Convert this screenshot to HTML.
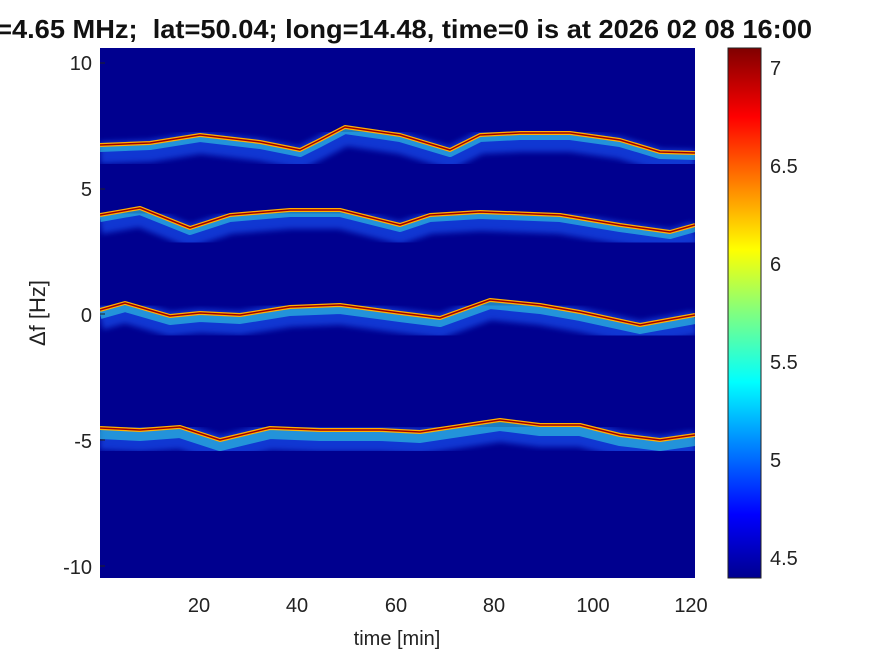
<!DOCTYPE html><html><head><style>body{margin:0;background:#fff;}svg{display:block;font-family:"Liberation Sans",Arial,sans-serif;}</style></head><body>
<svg width="875" height="656" viewBox="0 0 875 656">
<defs>
<linearGradient id="jet" x1="0" y1="1" x2="0" y2="0">
<stop offset="0" stop-color="#00008f"/><stop offset="0.12" stop-color="#0000ff"/><stop offset="0.37" stop-color="#00ffff"/><stop offset="0.5" stop-color="#80ff80"/><stop offset="0.62" stop-color="#ffff00"/><stop offset="0.87" stop-color="#ff0000"/><stop offset="1" stop-color="#800000"/>
</linearGradient>
<filter id="blur"><feGaussianBlur stdDeviation="3"/></filter>
<clipPath id="c"><rect x="100" y="48" width="595" height="530"/></clipPath>
</defs>
<text x="-13" y="38" font-size="26" font-weight="bold" fill="#111" style="white-space:pre" xml:space="preserve" textLength="825" lengthAdjust="spacingAndGlyphs">f=4.65 MHz;  lat=50.04; long=14.48, time=0 is at 2026 02 08 16:00</text>
<rect x="100" y="48" width="595" height="530" fill="#00008f"/>
<g clip-path="url(#c)" fill="none" stroke-linejoin="round">
<g>
<polyline points="100,145 150,143 200,135 260,142 300,150 320,140 345,127 400,135 450,150 480,135 520,133 570,133 620,140 660,152 695,153" stroke="#1a5cff" stroke-width="22" opacity="0.6" filter="url(#blur)" transform="translate(0,8)"/>
<polyline points="100,145 150,143 200,135 260,142 300,150 320,140 345,127 400,135 450,150 480,135 520,133 570,133 620,140 660,152 695,153" stroke="#30d0e0" stroke-width="8" opacity="0.6" transform="translate(0,3)"/>
<polyline points="100,145 150,143 200,135 260,142 300,150 320,140 345,127 400,135 450,150 480,135 520,133 570,133 620,140 660,152 695,153" stroke="#ffb000" stroke-width="4"/>
<polyline points="100,145 150,143 200,135 260,142 300,150 320,140 345,127 400,135 450,150 480,135 520,133 570,133 620,140 660,152 695,153" stroke="#a00000" stroke-width="1.5"/>
</g>
<g>
<polyline points="100,215 140,208 190,228 230,215 290,210 340,210 400,225 430,215 480,212 560,215 620,225 670,232 695,225" stroke="#1a5cff" stroke-width="22" opacity="0.6" filter="url(#blur)" transform="translate(0,8)"/>
<polyline points="100,215 140,208 190,228 230,215 290,210 340,210 400,225 430,215 480,212 560,215 620,225 670,232 695,225" stroke="#30d0e0" stroke-width="8" opacity="0.6" transform="translate(0,3)"/>
<polyline points="100,215 140,208 190,228 230,215 290,210 340,210 400,225 430,215 480,212 560,215 620,225 670,232 695,225" stroke="#ffb000" stroke-width="4"/>
<polyline points="100,215 140,208 190,228 230,215 290,210 340,210 400,225 430,215 480,212 560,215 620,225 670,232 695,225" stroke="#a00000" stroke-width="1.5"/>
</g>
<g>
<polyline points="100,310 125,303 170,316 200,313 240,315 290,307 340,305 400,313 440,318 490,300 540,305 580,312 640,325 695,315" stroke="#1a5cff" stroke-width="24" opacity="0.6" filter="url(#blur)" transform="translate(0,8)"/>
<polyline points="100,310 125,303 170,316 200,313 240,315 290,307 340,305 400,313 440,318 490,300 540,305 580,312 640,325 695,315" stroke="#30d0e0" stroke-width="10" opacity="0.6" transform="translate(0,4)"/>
<polyline points="100,310 125,303 170,316 200,313 240,315 290,307 340,305 400,313 440,318 490,300 540,305 580,312 640,325 695,315" stroke="#ffb000" stroke-width="4"/>
<polyline points="100,310 125,303 170,316 200,313 240,315 290,307 340,305 400,313 440,318 490,300 540,305 580,312 640,325 695,315" stroke="#a00000" stroke-width="1.5"/>
</g>
<g>
<polyline points="100,428 140,430 180,427 220,440 270,428 320,430 380,430 420,432 480,423 500,420 540,425 580,425 620,435 660,440 695,435" stroke="#1a5cff" stroke-width="26" opacity="0.6" filter="url(#blur)" transform="translate(0,9)"/>
<polyline points="100,428 140,430 180,427 220,440 270,428 320,430 380,430 420,432 480,423 500,420 540,425 580,425 620,435 660,440 695,435" stroke="#30d0e0" stroke-width="12" opacity="0.6" transform="translate(0,5)"/>
<polyline points="100,428 140,430 180,427 220,440 270,428 320,430 380,430 420,432 480,423 500,420 540,425 580,425 620,435 660,440 695,435" stroke="#ffb000" stroke-width="4"/>
<polyline points="100,428 140,430 180,427 220,440 270,428 320,430 380,430 420,432 480,423 500,420 540,425 580,425 620,435 660,440 695,435" stroke="#a00000" stroke-width="1.5"/>
</g>
</g>
<g fill="#222" font-size="20" text-anchor="end">
<text x="92" y="70">10</text><text x="92" y="196">5</text><text x="92" y="322">0</text><text x="92" y="448">-5</text><text x="92" y="574">-10</text>
</g>
<g stroke="#222" stroke-width="1">
<line x1="100" y1="63" x2="105" y2="63"/><line x1="100" y1="189" x2="105" y2="189"/><line x1="100" y1="314" x2="105" y2="314"/><line x1="100" y1="440" x2="105" y2="440"/><line x1="100" y1="566" x2="105" y2="566"/>
</g>
<g fill="#222" font-size="20" text-anchor="middle">
<text x="199" y="612">20</text><text x="297" y="612">40</text><text x="396" y="612">60</text><text x="494" y="612">80</text><text x="593" y="612">100</text><text x="691" y="612">120</text>
<text x="397" y="645">time [min]</text>
</g>
<text transform="translate(45,313) rotate(-90)" font-size="22" fill="#222" text-anchor="middle">Δf [Hz]</text>
<rect x="728" y="48" width="33" height="530" fill="url(#jet)" stroke="#222" stroke-width="1"/>
<g fill="#222" font-size="20">
<text x="770" y="75">7</text><text x="770" y="173">6.5</text><text x="770" y="271">6</text><text x="770" y="369">5.5</text><text x="770" y="467">5</text><text x="770" y="565">4.5</text>
</g>
</svg>
</body></html>
